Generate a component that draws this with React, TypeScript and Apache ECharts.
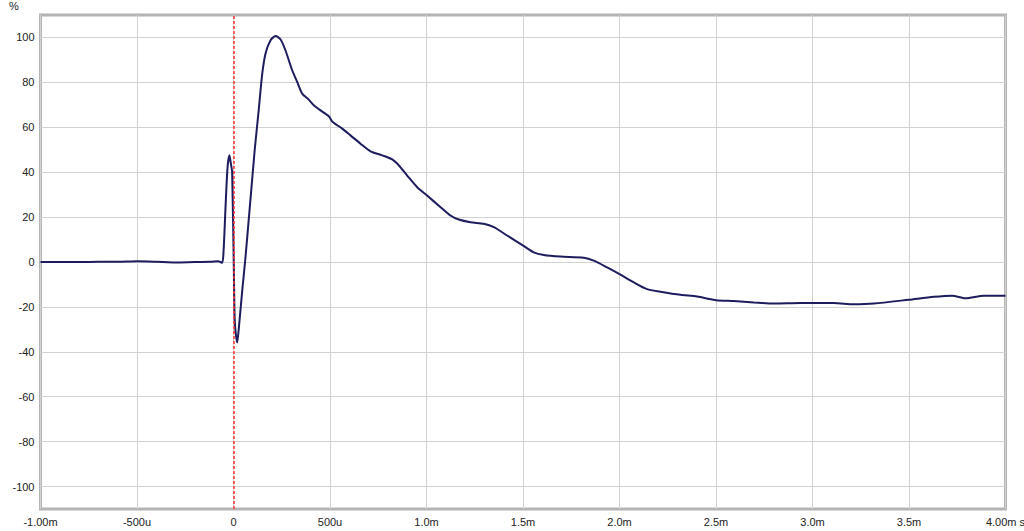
import React, { useEffect, useRef } from "react";
import * as echarts from "echarts";

// time in ms
const times = [
  -1.0, -0.9, -0.8, -0.7, -0.6, -0.5, -0.4, -0.3, -0.2, -0.12, -0.08, -0.059,
  -0.052, -0.041, -0.031, -0.021, -0.014, -0.007, 0.002, 0.007, 0.019, 0.027,
  0.045, 0.062, 0.079, 0.093, 0.11, 0.131, 0.149, 0.166, 0.192, 0.218, 0.244,
  0.269, 0.304, 0.33, 0.356, 0.39, 0.416, 0.451, 0.494, 0.511, 0.563, 0.606,
  0.658, 0.71, 0.77, 0.822, 0.857, 0.9, 0.952, 1.003, 1.073, 1.124, 1.167,
  1.228, 1.297, 1.349, 1.418, 1.501, 1.556, 1.608, 1.694, 1.815, 1.867, 1.936,
  2.0, 2.074, 2.143, 2.212, 2.316, 2.402, 2.501, 2.592, 2.696, 2.8, 2.938, 3.11,
  3.214, 3.318, 3.499, 3.629, 3.724, 3.793, 3.888, 4.0,
];

// impulse response (%)
const values = [
  0.0, 0.0, 0.0, 0.1, 0.1, 0.3, 0.1, -0.2, 0.0, 0.1, 0.3, -0.3,
  4, 25, 42, 47.5, 44, 40, -4.6, -27, -35.9, -30,
  -13, 2, 19, 33, 50, 68, 83.9, 92.9, 98.8, 100.6, 99.1,
  94.3, 85.4, 80.2, 75, 72.3, 69.8, 67.5, 64.9, 62.6, 59.4, 56.4,
  52.7, 49.3, 47.5, 45.7, 43, 38.5, 33.3, 29.6, 24.4, 20.7, 18.9,
  17.7, 17, 15.5, 11.8, 7.3, 4.3, 3.1, 2.4, 1.9, 0.6, -2.4,
  -5.4, -9.1, -12.1, -13.2, -14.6, -15.4, -17, -17.4, -18, -18.5, -18.3, -18.3,
  -18.8, -18.5, -16.8, -15.5, -15, -16.1, -15, -15,
];

const xTickLabels: Record<string, string> = {
  "-1": "-1.00m",
  "-0.5": "-500u",
  "0": "0",
  "0.5": "500u",
  "1": "1.0m",
  "1.5": "1.5m",
  "2": "2.0m",
  "2.5": "2.5m",
  "3": "3.0m",
  "3.5": "3.5m",
  "4": "4.00m s",
};

const yTickValues = [-100, -80, -60, -40, -20, 0, 20, 40, 60, 80, 100];

export default function App() {
  const ref = useRef<HTMLDivElement>(null);

  useEffect(() => {
    if (!ref.current) return;
    const chart = echarts.init(ref.current, null, { renderer: "svg" });
    const data = times.map((t, i) => [t, values[i]]);
    const font = "Liberation Sans, Arial, sans-serif";
    chart.setOption({
      animation: false,
      backgroundColor: "#ffffff",
      textStyle: { fontFamily: font },
      grid: {
        left: 40.5,
        right: 18.5,
        top: 15,
        bottom: 22,
        containLabel: false,
        outerBoundsMode: "none",
        show: true,
        borderColor: "#b4b4b4",
        borderWidth: 3,
        backgroundColor: "#ffffff",
      },
      graphic: [
        {
          type: "text",
          left: 9,
          top: 0,
          style: { text: "%", fontSize: 11, fill: "#222", fontFamily: font },
        },
      ],
      xAxis: {
        type: "value",
        min: -1,
        max: 4,
        interval: 0.5,
        axisLine: { show: false },
        axisTick: { show: false },
        axisLabel: {
          color: "#222",
          fontSize: 11,
          margin: 7,
          formatter: (v: number) => xTickLabels[String(Math.round(v * 10) / 10)] ?? "",
        },
        splitLine: { show: true, lineStyle: { color: "#d2d2d2", width: 1 } },
      },
      yAxis: {
        type: "value",
        min: -110,
        max: 110,
        interval: 10,
        axisLine: { show: false },
        axisTick: { show: false },
        axisLabel: {
          color: "#222",
          fontSize: 11,
          margin: 6,
          formatter: (v: number) => (yTickValues.includes(Math.round(v)) ? String(Math.round(v)) : ""),
        },
        splitLine: {
          show: true,
          lineStyle: { color: ["rgba(0,0,0,0)", "#d2d2d2"], width: 1 },
        },
      },
      series: [
        {
          type: "line",
          data,
          smooth: 0.25,
          showSymbol: false,
          symbol: "none",
          lineStyle: { color: "#1c1c5e", width: 2 },
          z: 3,
          markLine: {
            silent: true,
            symbol: "none",
            z: 5,
            label: { show: false },
            lineStyle: { color: "#ff3030", type: [3, 2], width: 1.5, opacity: 1 },
            emphasis: { disabled: true },
            data: [{ xAxis: 0 }],
          },
        },
      ],
    });
    return () => chart.dispose();
  }, []);

  return <div ref={ref} style={{ width: 1024, height: 531, position: "absolute", left: 0, top: 0 }} />;
}
